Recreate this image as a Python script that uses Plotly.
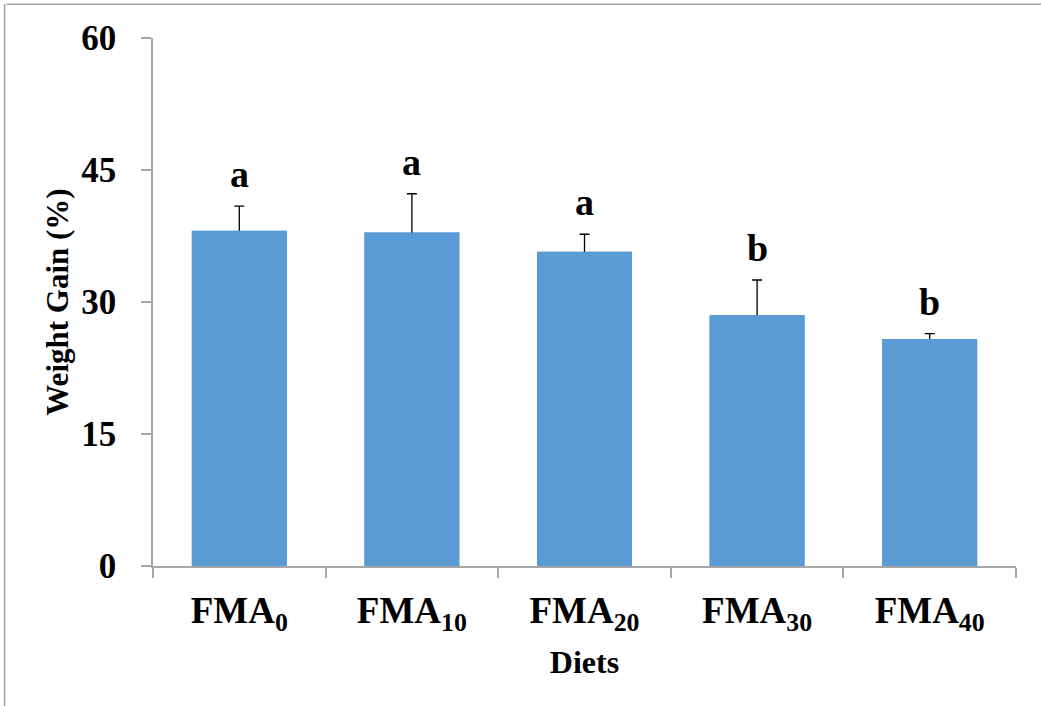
import plotly.graph_objects as go

# Weight gain by diet (mean ± SD), with significance letters
diets = ["FMA<sub>0</sub>", "FMA<sub>10</sub>", "FMA<sub>20</sub>", "FMA<sub>30</sub>", "FMA<sub>40</sub>"]
weight_gain = [38.1, 37.9, 35.7, 28.5, 25.8]
sd = [2.8, 4.4, 2.0, 4.0, 0.6]
letters = ["a", "a", "a", "b", "b"]
y_ticks = [0, 15, 30, 45, 60]

FONT = "Liberation Serif, Times New Roman, serif"
AXIS_GREY = "#A6A6A6"
BAR_BLUE = "#5B9BD5"

fig = go.Figure()
# bars carrying the SD whiskers
fig.add_trace(go.Bar(
    x=diets,
    y=weight_gain,
    marker=dict(color=BAR_BLUE, line=dict(width=0)),
    error_y=dict(type="data", array=sd, symmetric=True,
                 color="black", thickness=1.3, width=5),
    width=0.55,
))
# same bars again on top, so only the upper half of each whisker shows
fig.add_trace(go.Bar(
    x=diets,
    y=weight_gain,
    marker=dict(color=BAR_BLUE, line=dict(width=0)),
    width=0.55,
    hoverinfo="skip",
))

for d, v, e, lab in zip(diets, weight_gain, sd, letters):
    fig.add_annotation(
        x=d, y=v + e, text=lab, showarrow=False, xref="x", yref="y",
        yanchor="bottom", yshift=9,
        font=dict(family=FONT, size=38, color="black", weight="bold"),
    )

# thin grey frame along the top and left edges of the page
fig.add_shape(type="line", xref="paper", yref="paper", x0=-0.17, x1=1.1, y0=1.064, y1=1.064,
              line=dict(color="#A0A0A0", width=1.5))
fig.add_shape(type="line", xref="paper", yref="paper", x0=-0.172, x1=-0.172, y0=1.064, y1=-0.3,
              line=dict(color="#A0A0A0", width=1.5))

fig.update_layout(
    width=1041, height=706,
    margin=dict(l=153, r=25, t=38, b=140),
    paper_bgcolor="white", plot_bgcolor="white",
    showlegend=False,
    barmode="overlay",
    font=dict(family=FONT, color="black"),
    xaxis=dict(
        showline=True, linecolor=AXIS_GREY, linewidth=1.5,
        ticks="outside", tickson="boundaries", ticklen=10, tickcolor=AXIS_GREY, tickwidth=1.5,
        tickfont=dict(family=FONT, size=37, color="black", weight="bold"),
        ticklabelstandoff=11,
        title=dict(text="Diets", font=dict(family=FONT, size=32, color="black", weight="bold"),
                   standoff=15),
        showgrid=False,
    ),
    yaxis=dict(
        range=[0, 60], tickvals=y_ticks,
        showline=True, linecolor=AXIS_GREY, linewidth=1.5,
        ticks="outside", ticklen=10, tickcolor=AXIS_GREY, tickwidth=1.5,
        tickfont=dict(family=FONT, size=35, color="black", weight="bold"),
        ticklabelstandoff=18,
        title=dict(text="Weight Gain (%)", font=dict(family=FONT, size=31, color="black", weight="bold"),
                   standoff=3),
        showgrid=False, zeroline=False,
    ),
)

fig.write_html("out.html")
